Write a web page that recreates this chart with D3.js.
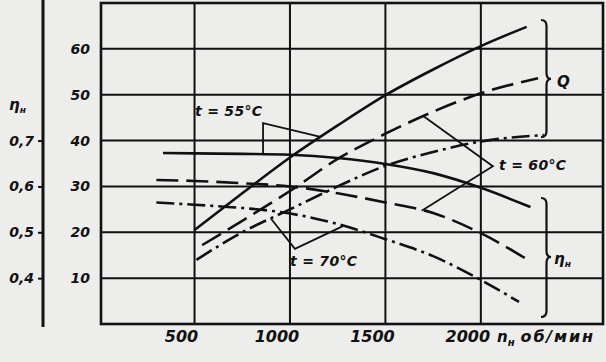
<!DOCTYPE html>
<html>
<head>
<meta charset="utf-8">
<script src="https://cdn.jsdelivr.net/npm/d3@7"></script>
<style>
  body { margin: 0; background: #ededeb; }
  svg { display: block; }
  text { font-family: "DejaVu Sans", sans-serif; font-weight: bold; font-style: italic; fill: #111; }
</style>
</head>
<body>
<script>
// speed, rpm
var xTicks = [500, 1000, 1500, 2000];
// Q scale ticks
var yTicks = [10, 20, 30, 40, 50, 60];
// efficiency ticks (left axis)
var etaTicks = [0.4, 0.5, 0.6, 0.7];

// Q curves (rising) for t = 55, 60, 70 C
var q55 = [[500,20.5],[750,28.5],[1000,36.3],[1250,43.3],[1500,49.9],[1750,55.5],[2000,60.6],[2240,64.8]];
var q60 = [[540,17.2],[750,22.5],[1000,29],[1250,36],[1500,41.5],[1750,46.3],[2000,50.3],[2300,53.6]];
var q70 = [[510,14],[750,20],[1000,25],[1250,30],[1500,34.5],[1750,37.5],[2000,39.8],[2330,41.2]];

// efficiency curves (falling), drawn on the Q scale
var eta55 = [[335,37.3],[500,37.2],[750,37.1],[1000,36.9],[1250,36.2],[1500,34.9],[1750,32.9],[2000,29.7],[2260,25.5]];
var eta60 = [[300,31.4],[500,31.2],[750,30.7],[1000,30],[1250,28.5],[1500,26.5],[1750,24.2],[2000,19.8],[2230,14.4]];
var eta70 = [[300,26.5],[500,26],[750,25.3],[1000,24.1],[1250,21.8],[1500,18.5],[1750,14.8],[2000,9.6],[2200,4.8]];

var W = 606, H = 362;
var svg = d3.select("body").append("svg").attr("width", W).attr("height", H);

var x = d3.scaleLinear().domain([10, 2640]).range([101, 603]);
var y = d3.scaleLinear().domain([0, 70]).range([324, 3]);
var yEta = d3.scaleLinear().domain([0.3, 1.0]).range([324, 3]);

// grid
svg.selectAll(".hg").data(yTicks).enter().append("line")
  .attr("x1", x.range()[0]).attr("x2", x.range()[1])
  .attr("y1", function(d){ return y(d); }).attr("y2", function(d){ return y(d); })
  .attr("stroke", "#111").attr("stroke-width", 2);
svg.selectAll(".vg").data(xTicks).enter().append("line")
  .attr("x1", function(d){ return x(d); }).attr("x2", function(d){ return x(d); })
  .attr("y1", y.range()[1]).attr("y2", y.range()[0])
  .attr("stroke", "#111").attr("stroke-width", 2);

// frame
svg.append("rect")
  .attr("x", x.range()[0]).attr("y", y.range()[1])
  .attr("width", x.range()[1] - x.range()[0]).attr("height", y.range()[0] - y.range()[1])
  .attr("fill", "none").attr("stroke", "#111").attr("stroke-width", 2.6);

// Q tick labels
svg.selectAll(".yl").data(yTicks).enter().append("text")
  .attr("x", 90).attr("y", function(d){ return y(d); }).attr("dy", "0.36em")
  .attr("text-anchor", "end").attr("font-size", 14)
  .text(function(d){ return d; });

// x tick labels
svg.selectAll(".xl").data(xTicks).enter().append("text")
  .attr("x", function(d){ return x(d) - 13; }).attr("y", 342)
  .attr("text-anchor", "middle").attr("font-size", 16)
  .text(function(d){ return d; });

var xt = svg.append("text").attr("x", 497).attr("y", 342).attr("font-size", 15);
xt.append("tspan").text("n");
xt.append("tspan").attr("dy", 4).attr("font-size", 10).text("н");
xt.append("tspan").attr("dy", -4).attr("dx", 6).attr("font-size", 16)
  .attr("letter-spacing", 1.8).text("об/мин");

// left efficiency axis
var etaAxis = svg.append("g").attr("transform", "translate(43,0)")
  .call(d3.axisLeft(yEta).tickValues(etaTicks).tickSize(5).tickPadding(4)
    .tickFormat(function(d){ return d3.format(".1f")(d).replace(".", ","); }));
etaAxis.select(".domain").remove();
etaAxis.selectAll("line").attr("stroke", "#111").attr("stroke-width", 2);
etaAxis.selectAll("text").attr("font-size", 14).attr("font-family", null).attr("fill", "#111");
svg.append("line").attr("x1", 43).attr("x2", 43).attr("y1", 0).attr("y2", 327)
  .attr("stroke", "#111").attr("stroke-width", 3);
var el = svg.append("text").attr("x", 9).attr("y", 110).attr("font-size", 15);
el.append("tspan").text("η");
el.append("tspan").attr("dy", 3).attr("font-size", 9).text("н");

// curves
var line = d3.line()
  .x(function(d){ return x(d[0]); })
  .y(function(d){ return y(d[1]); })
  .curve(d3.curveMonotoneX);

var dashes = { solid: null, dash: "22,8", dashdot: "18,5,3,5" };
var curves = [
  [q55, "solid"], [q60, "dash"], [q70, "dashdot"],
  [eta55, "solid"], [eta60, "dash"], [eta70, "dashdot"]
];
curves.forEach(function(c){
  svg.append("path").datum(c[0])
    .attr("d", line)
    .attr("fill", "none").attr("stroke", "#111").attr("stroke-width", 2.6)
    .attr("stroke-dasharray", dashes[c[1]]);
});

// leader lines to the temperature labels
var plain = d3.line().x(function(d){ return x(d[0]); }).y(function(d){ return y(d[1]); });
var leaders = [
  [[859,37.1],[859,43.8],[1160,40.8]],
  [[1700,45.3],[2063,34.4],[1690,24.7]],
  [[900,23.0],[1026,16.4],[1280,21.4]]
];
leaders.forEach(function(p){
  svg.append("path").datum(p).attr("d", plain)
    .attr("fill", "none").attr("stroke", "#111").attr("stroke-width", 1.8);
});

var labels = [
  ["t = 55°C", 195, 116],
  ["t = 60°C", 499, 170],
  ["t = 70°C", 290, 266]
];
svg.selectAll(".tl").data(labels).enter().append("text")
  .attr("x", function(d){ return d[1]; }).attr("y", function(d){ return d[2]; })
  .attr("font-size", 14).attr("letter-spacing", 0.3)
  .text(function(d){ return d[0]; });

// braces
function brace(x0, y0, y1, ym, w) {
  var x1 = x0 + w * 0.55, xt = x0 + w, r = 6;
  return "M" + x0 + "," + y0 +
    " Q" + x1 + "," + y0 + " " + x1 + "," + (y0 + r) +
    " L" + x1 + "," + (ym - r) +
    " Q" + x1 + "," + ym + " " + xt + "," + ym +
    " Q" + x1 + "," + ym + " " + x1 + "," + (ym + r) +
    " L" + x1 + "," + (y1 - r) +
    " Q" + x1 + "," + y1 + " " + x0 + "," + y1;
}
svg.append("path").attr("d", brace(541, 20, 137, 79, 10))
  .attr("fill", "none").attr("stroke", "#111").attr("stroke-width", 2.2);
svg.append("path").attr("d", brace(541, 198, 317, 257, 10))
  .attr("fill", "none").attr("stroke", "#111").attr("stroke-width", 2.2);

svg.append("text").attr("x", 557).attr("y", 87).attr("font-size", 15).text("Q");
var bl = svg.append("text").attr("x", 554).attr("y", 264).attr("font-size", 15);
bl.append("tspan").text("η");
bl.append("tspan").attr("dy", 3).attr("font-size", 9).text("н");
</script>
</body>
</html>
